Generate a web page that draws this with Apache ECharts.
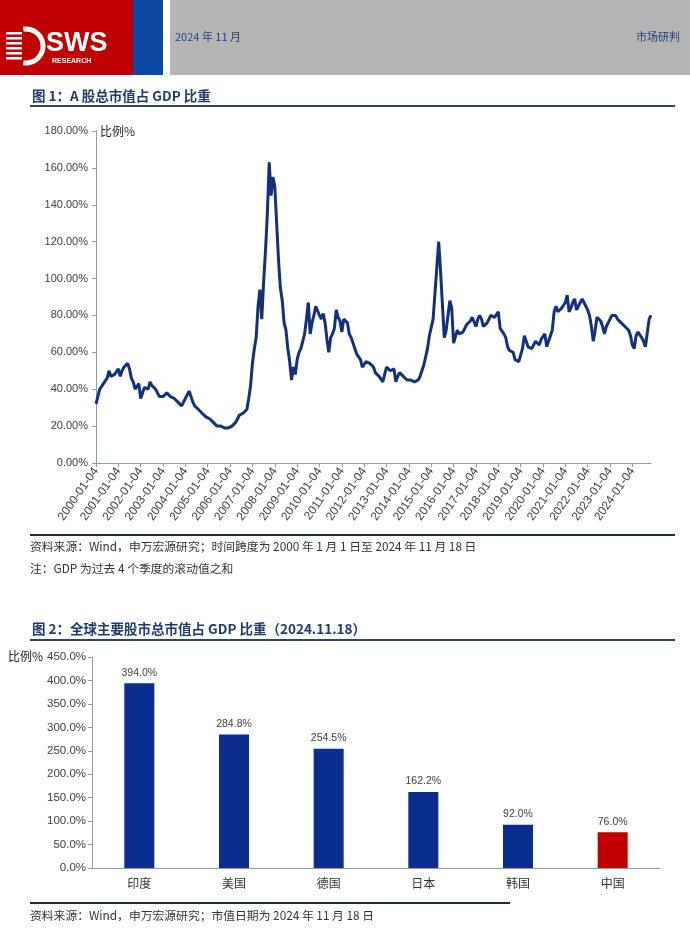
<!DOCTYPE html>
<html><head><meta charset="utf-8">
<script src="https://cdn.jsdelivr.net/npm/echarts@6/dist/echarts.min.js"></script>
<style>html,body{margin:0;padding:0;background:#fff}#c{width:690px;height:928px}</style>
</head><body><div id="c"></div>
<script>
// ---- Chart 1: A-share market cap / GDP (%), monthly, 2000-01 .. 2024-11 ----
const years = ['2000','2001','2002','2003','2004','2005','2006','2007','2008','2009','2010','2011','2012','2013','2014','2015','2016','2017','2018','2019','2020','2021','2022','2023','2024'];
const v2000 = [32, 36, 40, 41, 43, 44, 46, 50, 47, 46, 48, 49];
const v2001 = [51, 47, 50, 52, 53, 54, 51, 46, 44, 40, 41, 43];
const v2002 = [35, 38, 41, 42, 40, 44, 42, 41, 40, 38, 36, 35];
const v2003 = [36, 37, 38, 37, 36, 36, 35, 34, 33, 32, 31, 32];
const v2004 = [35, 37, 39, 36, 33, 31, 30, 29, 28, 27, 26, 25];
const v2005 = [25, 24, 24, 22, 21, 20, 19, 20, 21, 19, 18, 19];
const v2006 = [20, 20, 21, 22, 24, 26, 25, 27, 28, 29, 35, 42];
const v2007 = [54, 62, 68, 85, 94, 78, 98, 115, 135, 163, 145, 155];
const v2008 = [150, 130, 110, 95, 88, 76, 72, 62, 55, 45, 52, 48];
const v2009 = [56, 60, 62, 66, 70, 78, 87, 70, 76, 80, 85, 86];
const v2010 = [80, 78, 81, 76, 67, 60, 68, 70, 73, 83, 79, 77];
const v2011 = [71, 78, 77, 76, 70, 68, 65, 62, 59, 58, 56, 52];
const v2012 = [51, 55, 56, 54, 53, 52, 49, 48, 47, 46, 44, 48];
const v2013 = [52, 53, 50, 50, 51, 44, 47, 49, 48, 47, 47, 45];
const v2014 = [46, 45, 45, 44, 45, 45, 47, 50, 53, 54, 62, 69];
const v2015 = [70, 78, 92, 106, 120, 104, 86, 68, 72, 80, 88, 84];
const v2016 = [65, 66, 72, 70, 69, 71, 73, 75, 76, 77, 79, 78];
const v2017 = [74, 78, 80, 78, 74, 75, 76, 78, 80, 81, 79, 78];
const v2018 = [82, 73, 73, 70, 68, 63, 61, 60, 60, 56, 57, 55];
const v2019 = [54, 62, 69, 70, 63, 64, 62, 63, 66, 65, 64, 67];
const v2020 = [68, 70, 63, 66, 69, 72, 82, 85, 82, 82, 84, 85];
const v2021 = [87, 91, 82, 84, 87, 89, 83, 84, 87, 89, 87, 86];
const v2022 = [83, 80, 74, 66, 72, 79, 78, 77, 74, 70, 74, 76];
const v2023 = [78, 80, 79, 80, 78, 77, 76, 75, 74, 73, 72, 69];
const v2024 = [64, 62, 69, 71, 72, 68, 66, 63, 62, 78, 80];
const yearValues = [v2000,v2001,v2002,v2003,v2004,v2005,v2006,v2007,v2008,v2009,v2010,v2011,v2012,v2013,v2014,v2015,v2016,v2017,v2018,v2019,v2020,v2021,v2022,v2023,v2024];

// ---- Chart 2: major markets market cap / GDP (%) ----
const countries = ['印度','美国','德国','日本','韩国','中国'];
const ratios = [394.0, 284.8, 254.5, 162.2, 92.0, 76.0];

const dates = [], lineData = [];
years.forEach((y, i) => {
  yearValues[i].forEach((v, m) => {
    dates.push(y + '-' + String(m + 1).padStart(2, '0') + '-04');
    lineData.push(v);
  });
});

const navy = '#12307c';
const axisCol = '#8e9cac';
const txt = '#404040';
const titleCol = '#1f3a6b';
const cjk = '"Noto Sans CJK SC", "Liberation Sans", sans-serif';
const lat = 'Arial, "Liberation Sans", sans-serif';

const chart = echarts.init(document.getElementById('c'), null, {renderer: 'canvas'});
const stripes = [];
[32, 37, 42, 47, 52, 57].forEach(y => stripes.push({type:'rect', shape:{x:6, y:y, width:16, height:2.5}, style:{fill:'#fff'}}));

chart.setOption({
  animation: false,
  backgroundColor: '#fff',
  graphic: [
    {type:'rect', shape:{x:0, y:0, width:133, height:75}, style:{fill:'#c00000'}},
    {type:'rect', shape:{x:133, y:0, width:30, height:75}, style:{fill:'#0b4aa2'}},
    {type:'rect', shape:{x:170, y:0, width:520, height:75}, style:{fill:'#b5b5b5'}},
    {type:'arc', shape:{cx:26, cy:46, r:17, startAngle:-Math.PI*0.55, endAngle:Math.PI*0.55}, style:{stroke:'#fff', lineWidth:5, fill:null}},
    {type:'group', children: stripes},
    {type:'text', left:46, top:30, style:{text:'SWS', fill:'#fff', font:'bold 27px ' + lat}},
    {type:'text', left:52, top:58, style:{text:'RESEARCH', fill:'#fff', font:'bold 7px ' + lat}},
    {type:'text', left:175, top:31, style:{text:'2024 年 11 月', fill:'#25407e', font:'11px ' + cjk}},
    {type:'text', left:636, top:31, style:{text:'市场研判', fill:'#25407e', font:'11px ' + cjk}},

    {type:'text', left:32, top:89, style:{text:'图 1：A 股总市值占 GDP 比重', fill:titleCol, font:'bold 13.5px ' + cjk}},
    {type:'line', shape:{x1:30, y1:106, x2:675, y2:106}, style:{stroke:'#2e4656', lineWidth:2}},
    {type:'text', left:100, top:125, style:{text:'比例%', fill:'#222', font:'12px ' + cjk}},
    {type:'line', shape:{x1:30, y1:535, x2:675, y2:535}, style:{stroke:'#1f2d3a', lineWidth:2}},
    {type:'text', left:30, top:541, style:{text:'资料来源：Wind，申万宏源研究；时间跨度为 2000 年 1 月 1 日至 2024 年 11 月 18 日', fill:'#333', font:'11.8px ' + cjk}},
    {type:'text', left:30, top:563, style:{text:'注：GDP 为过去 4 个季度的滚动值之和', fill:'#333', font:'11.8px ' + cjk}},

    {type:'text', left:32, top:622, style:{text:'图 2：全球主要股市总市值占 GDP 比重（2024.11.18）', fill:titleCol, font:'bold 13.5px ' + cjk}},
    {type:'line', shape:{x1:30, y1:640, x2:675, y2:640}, style:{stroke:'#2e4656', lineWidth:2}},
    {type:'text', left:8, top:650, style:{text:'比例%', fill:'#222', font:'12px ' + cjk}},
    {type:'line', shape:{x1:30, y1:903, x2:510, y2:903}, style:{stroke:'#1f2d3a', lineWidth:2}},
    {type:'text', left:30, top:910, style:{text:'资料来源：Wind，申万宏源研究；市值日期为 2024 年 11 月 18 日', fill:'#333', font:'11.8px ' + cjk}}
  ],
  grid: [
    {left:96, top:131, width:555, height:332},
    {left:92, top:657, width:568, height:211}
  ],
  xAxis: [
    {type:'category', gridIndex:0, data:dates, boundaryGap:false,
     axisLine:{lineStyle:{color:axisCol}},
     axisTick:{length:4, lineStyle:{color:axisCol}, interval:(i, v) => v.slice(5,7) === '01'},
     axisLabel:{rotate:55, fontSize:12, color:txt, fontFamily:lat, margin:6, interval:(i, v) => v.slice(5,7) === '01'}},
    {type:'category', gridIndex:1, data:countries,
     axisLine:{lineStyle:{color:axisCol}},
     axisTick:{length:4, lineStyle:{color:axisCol}},
     axisLabel:{fontSize:12, color:'#333', fontFamily:cjk, margin:9}}
  ],
  yAxis: [
    {type:'value', gridIndex:0, min:0, max:180, interval:20,
     axisLine:{show:true, lineStyle:{color:axisCol}},
     axisTick:{show:true, length:4, lineStyle:{color:axisCol}},
     splitLine:{show:false},
     axisLabel:{formatter:v => v.toFixed(2) + '%', fontSize:11, color:txt, fontFamily:lat, margin:8}},
    {type:'value', gridIndex:1, min:0, max:450, interval:50,
     axisLine:{show:true, lineStyle:{color:axisCol}},
     axisTick:{show:true, length:4, lineStyle:{color:axisCol}},
     splitLine:{show:false},
     axisLabel:{formatter:v => v.toFixed(1) + '%', fontSize:11.5, color:txt, fontFamily:lat, margin:6}}
  ],
  series: [
    {type:'line', xAxisIndex:0, yAxisIndex:0, data:lineData, showSymbol:false,
     lineStyle:{color:navy, width:3}, itemStyle:{color:navy}},
    {type:'bar', xAxisIndex:1, yAxisIndex:1, barWidth:30,
     data: ratios.map((v, i) => ({value:v, itemStyle:{color: countries[i] === '中国' ? '#c00000' : '#0b2d8e'}})),
     label:{show:true, position:'top', distance:5, formatter:p => p.value.toFixed(1) + '%', fontSize:10.5, color:txt, fontFamily:lat}}
  ]
});
</script></body></html>
